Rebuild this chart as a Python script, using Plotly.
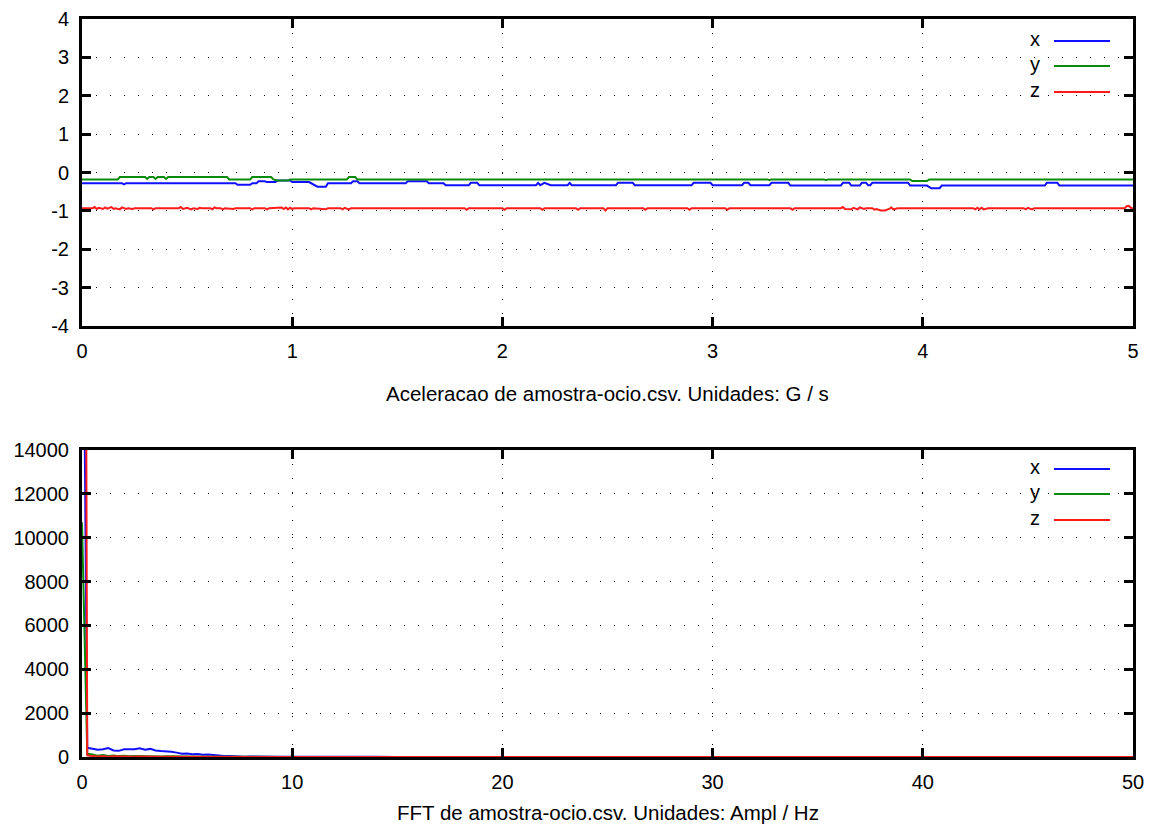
import numpy as np
import plotly.graph_objects as go

# ---------------------------------------------------------------
# Accelerometer record (G) over 5 s, one list of sample times and
# values per axis (samples kept where the signal changes level).
# ---------------------------------------------------------------
SERIES_NAMES = ["x", "y", "z"]
SERIES_COLORS = ["#1010ff", "#0a8a0a", "#ff1a1a"]

ACC_X_T = [0.00, 0.19, 0.20, 0.21, 0.73, 0.74, 0.80, 0.81, 0.83, 0.84, 0.87, 0.88,
           0.92, 0.93, 0.99, 1.00, 1.08, 1.10, 1.12, 1.16, 1.17, 1.28, 1.29, 1.31,
           1.32, 1.54, 1.55, 1.64, 1.65, 1.72, 1.73, 1.84, 1.85, 1.88, 1.89, 2.16,
           2.17, 2.18, 2.20, 2.23, 2.31, 2.32, 2.33, 2.54, 2.55, 2.62, 2.63, 2.90,
           2.91, 2.99, 3.00, 3.14, 3.15, 3.17, 3.18, 3.27, 3.28, 3.36, 3.37, 3.61,
           3.62, 3.65, 3.66, 3.70, 3.71, 3.73, 3.74, 3.75, 3.76, 3.93, 3.94, 4.02,
           4.04, 4.08, 4.09, 4.58, 4.59, 4.64, 4.65, 5.00]
ACC_X = [-0.28, -0.28, -0.31, -0.28, -0.28, -0.32, -0.32, -0.28, -0.28, -0.23, -0.23, -0.25,
         -0.25, -0.21, -0.21, -0.25, -0.25, -0.31, -0.37, -0.37, -0.28, -0.28, -0.23, -0.23,
         -0.28, -0.28, -0.23, -0.23, -0.28, -0.28, -0.33, -0.33, -0.27, -0.27, -0.33, -0.33,
         -0.27, -0.33, -0.27, -0.33, -0.33, -0.27, -0.33, -0.33, -0.27, -0.27, -0.33, -0.33,
         -0.27, -0.27, -0.33, -0.33, -0.27, -0.27, -0.33, -0.33, -0.27, -0.27, -0.34, -0.34,
         -0.27, -0.27, -0.34, -0.34, -0.27, -0.27, -0.33, -0.33, -0.27, -0.27, -0.34, -0.34,
         -0.41, -0.41, -0.34, -0.34, -0.27, -0.27, -0.34, -0.34]

ACC_Y_T = [0.00, 0.17, 0.18, 0.30, 0.31, 0.32, 0.34, 0.35, 0.36, 0.39, 0.40, 0.41,
           0.69, 0.70, 0.80, 0.81, 0.90, 0.91, 0.93, 0.98, 0.99, 1.26, 1.27, 1.30,
           1.31, 3.26, 3.27, 3.28, 3.53, 3.54, 3.55, 3.94, 3.95, 4.02, 4.03, 5.00]
ACC_Y = [-0.18, -0.18, -0.12, -0.12, -0.17, -0.12, -0.12, -0.17, -0.12, -0.12, -0.17, -0.12,
         -0.12, -0.18, -0.18, -0.12, -0.12, -0.18, -0.21, -0.21, -0.18, -0.18, -0.12, -0.12,
         -0.18, -0.18, -0.20, -0.18, -0.18, -0.20, -0.18, -0.18, -0.22, -0.22, -0.18, -0.18]

ACC_Z_T = [0.00, 0.05, 0.06, 0.07, 0.08, 0.10, 0.11, 0.12, 0.14, 0.15, 0.16, 0.18,
           0.19, 0.21, 0.22, 0.24, 0.25, 0.33, 0.34, 0.35, 0.46, 0.47, 0.48, 0.50,
           0.52, 0.53, 0.55, 0.56, 0.57, 0.61, 0.62, 0.63, 0.64, 0.66, 0.67, 0.68,
           0.72, 0.73, 0.80, 0.81, 0.82, 0.87, 0.88, 0.89, 0.95, 0.96, 0.97, 0.98,
           0.99, 1.00, 1.01, 1.08, 1.09, 1.10, 1.16, 1.17, 1.23, 1.24, 1.25, 1.27,
           1.28, 1.82, 1.83, 1.84, 2.00, 2.01, 2.02, 2.18, 2.19, 2.20, 2.35, 2.36,
           2.37, 2.48, 2.49, 2.50, 2.67, 2.68, 2.69, 2.88, 2.89, 2.90, 3.06, 3.07,
           3.08, 3.37, 3.38, 3.39, 3.61, 3.62, 3.63, 3.66, 3.67, 3.69, 3.70, 3.72,
           3.73, 3.76, 3.77, 3.78, 3.80, 3.82, 3.84, 3.85, 3.86, 3.88, 4.24, 4.25,
           4.26, 4.27, 4.28, 4.29, 4.31, 4.48, 4.49, 4.50, 4.52, 4.53, 4.96, 4.97,
           4.98, 4.99, 5.00]
ACC_Z = [-0.93, -0.93, -0.90, -0.95, -0.92, -0.95, -0.91, -0.94, -0.90, -0.95, -0.93, -0.96,
         -0.91, -0.95, -0.93, -0.95, -0.93, -0.93, -0.96, -0.93, -0.93, -0.90, -0.95, -0.92,
         -0.96, -0.93, -0.95, -0.92, -0.93, -0.93, -0.96, -0.91, -0.93, -0.93, -0.96, -0.93,
         -0.95, -0.93, -0.93, -0.96, -0.93, -0.93, -0.96, -0.93, -0.91, -0.95, -0.91, -0.96,
         -0.92, -0.95, -0.93, -0.93, -0.96, -0.93, -0.96, -0.93, -0.93, -0.96, -0.92, -0.96,
         -0.93, -0.93, -0.97, -0.93, -0.93, -0.97, -0.93, -0.93, -0.97, -0.93, -0.93, -0.97,
         -0.93, -0.93, -0.99, -0.93, -0.93, -0.97, -0.93, -0.93, -0.97, -0.93, -0.93, -0.97,
         -0.93, -0.93, -0.97, -0.93, -0.93, -0.90, -0.95, -0.96, -0.92, -0.96, -0.91, -0.95,
         -0.93, -0.93, -0.97, -0.95, -0.99, -0.99, -0.95, -0.91, -0.96, -0.93, -0.93, -0.96,
         -0.92, -0.96, -0.92, -0.96, -0.93, -0.93, -0.96, -0.92, -0.96, -0.93, -0.93, -0.88,
         -0.87, -0.92, -0.94]

# ---------------------------------------------------------------
# FFT magnitude: fine bins (0.25 Hz) up to 10 Hz, 1 Hz bins above.
# ---------------------------------------------------------------
FFT_BIN_HZ = 0.25
FFT_X_LOW = [30000, 420, 380, 330, 350, 410, 300, 280, 350, 340, 350, 400, 330, 370,
             300, 270, 260, 240, 200, 150, 160, 130, 140, 100, 110, 80, 60, 40, 45, 25,
             20, 15, 20, 12, 15, 10, 12, 8, 10, 8, 9]
FFT_Y_LOW = [10700, 150, 110, 60, 90, 50, 70, 40, 60, 30, 50, 40, 60, 30, 40, 25, 35,
             20, 30, 25, 20, 15, 20, 12, 15, 10, 12, 8, 10, 8, 10, 6, 8, 6, 7, 5, 6, 5,
             6, 5, 5]
FFT_Z_LOW = [80000, 70, 40, 20, 35, 15, 30, 20, 10, 25, 15, 20, 10, 15, 10, 12, 8, 10,
             8, 10, 6, 8, 6, 7, 5, 6, 5, 6, 4, 5, 4, 5, 4, 5, 4, 4, 4, 3, 4, 3, 3]
FFT_TAIL_HZ = list(range(11, 51))
FFT_X_TAIL = [8, 7, 6, 7, 5, 6, 5, 5, 4, 5, 4, 4, 5, 4, 3, 4, 4, 3, 4, 3,
              3, 4, 3, 3, 3, 4, 3, 3, 2, 3, 3, 2, 3, 3, 2, 2, 3, 2, 2, 3]
FFT_Y_TAIL = [6, 5, 5, 4, 5, 4, 4, 3, 4, 3, 4, 3, 3, 3, 2, 3, 3, 2, 3, 2,
              2, 3, 2, 2, 2, 3, 2, 2, 2, 2, 2, 2, 3, 2, 2, 2, 2, 2, 2, 2]
FFT_Z_TAIL = [4, 3, 4, 3, 3, 3, 2, 3, 2, 3, 2, 2, 3, 2, 2, 2, 2, 2, 2, 2,
              1, 2, 2, 1, 2, 2, 1, 2, 1, 2, 1, 2, 2, 1, 1, 2, 1, 1, 2, 1]

# axis ticks
ACC_X_TICKS = [0, 1, 2, 3, 4, 5]
ACC_Y_TICKS = [-4, -3, -2, -1, 0, 1, 2, 3, 4]
FFT_X_TICKS = [0, 10, 20, 30, 40, 50]
FFT_Y_TICKS = [0, 2000, 4000, 6000, 8000, 10000, 12000, 14000]

TITLE_ACC = "Aceleracao de amostra-ocio.csv. Unidades: G / s"
TITLE_FFT = "FFT de amostra-ocio.csv. Unidades: Ampl / Hz"

# ---------------------------------------------------------------
W, H = 1152, 835
FONT = dict(family="Liberation Sans, Arial, sans-serif", size=20, color="black")
CAPTION_FONT = dict(family="Liberation Sans, Arial, sans-serif", size=20.5, color="black")

# panel geometry in pixels (left, right, top, bottom)
PX_L, PX_R = 82, 1133
TOP_T, TOP_B = 19, 326
BOT_T, BOT_B = 450, 757

xdom = [PX_L / W, PX_R / W]
ydom_top = [1 - TOP_B / H, 1 - TOP_T / H]
ydom_bot = [1 - BOT_B / H, 1 - BOT_T / H]

fig = go.Figure()

acc_t = [ACC_X_T, ACC_Y_T, ACC_Z_T]
acc_v = [ACC_X, ACC_Y, ACC_Z]
for name, col, t, v in zip(SERIES_NAMES, SERIES_COLORS, acc_t, acc_v):
    fig.add_trace(go.Scatter(x=t, y=v, mode="lines", name=name,
                             line=dict(color=col, width=2),
                             xaxis="x", yaxis="y", showlegend=False))

fft_low = [FFT_X_LOW, FFT_Y_LOW, FFT_Z_LOW]
fft_tail = [FFT_X_TAIL, FFT_Y_TAIL, FFT_Z_TAIL]
for name, col, lo, tl in zip(SERIES_NAMES, SERIES_COLORS, fft_low, fft_tail):
    freq = list(np.arange(len(lo)) * FFT_BIN_HZ) + FFT_TAIL_HZ
    fig.add_trace(go.Scatter(x=freq, y=lo + tl, mode="lines", name=name,
                             line=dict(color=col, width=2),
                             xaxis="x2", yaxis="y2", showlegend=False))


def axis_style(ticks, **kw):
    d = dict(
        tickmode="array", tickvals=ticks, ticktext=[str(v) for v in ticks],
        showline=True, linecolor="black", linewidth=3, mirror="allticks",
        ticks="inside", ticklen=9, tickwidth=3, tickcolor="black",
        showgrid=True, gridcolor="black", gridwidth=1.4, griddash="1.4px,12.6px",
        zeroline=False, tickfont=FONT, layer="above traces", automargin=False,
    )
    d.update(kw)
    return d


fig.update_layout(
    width=W, height=H,
    margin=dict(l=0, r=0, t=0, b=0, autoexpand=False),
    paper_bgcolor="white", plot_bgcolor="white",
    font=FONT,
    xaxis=axis_style(ACC_X_TICKS, domain=xdom, range=[0, 5], anchor="y", ticklabelstandoff=5),
    yaxis=axis_style(ACC_Y_TICKS, domain=ydom_top, range=[-4, 4], anchor="x", ticklabelstandoff=6),
    xaxis2=axis_style(FFT_X_TICKS, domain=xdom, range=[0, 50], anchor="y2", ticklabelstandoff=5),
    yaxis2=axis_style(FFT_Y_TICKS, domain=ydom_bot, range=[0, 14000], anchor="x2", ticklabelstandoff=6),
)

# axis captions under each panel
panel_h = TOP_B - TOP_T
fig.add_annotation(text=TITLE_ACC, xref="x domain", yref="y domain", x=0.5,
                   y=-(393 - TOP_B) / panel_h, xanchor="center", yanchor="middle",
                   showarrow=False, font=CAPTION_FONT)
fig.add_annotation(text=TITLE_FFT, xref="x2 domain", yref="y2 domain", x=0.5,
                   y=-(812 - BOT_B) / panel_h, xanchor="center", yanchor="middle",
                   showarrow=False, font=CAPTION_FONT)

# keys in the top-right corner of each panel: label then line sample
panel_w = PX_R - PX_L
txt_x = (1042 - PX_L) / panel_w
ln_x0 = (1054 - PX_L) / panel_w
ln_x1 = (1110 - PX_L) / panel_w
for xr, yr, rows in [("x domain", "y domain", [22, 47, 73]),
                     ("x2 domain", "y2 domain", [19, 44, 70])]:
    for name, col, off in zip(SERIES_NAMES, SERIES_COLORS, rows):
        yy = 1 - off / panel_h
        fig.add_shape(type="line", xref=xr, yref=yr, x0=ln_x0, x1=ln_x1, y0=yy, y1=yy,
                      line=dict(color=col, width=2))
        fig.add_annotation(text=name, xref=xr, yref=yr, x=txt_x, y=yy,
                           xanchor="right", yanchor="middle", showarrow=False,
                           font=FONT, yshift=2)

fig.write_html("out.html")
